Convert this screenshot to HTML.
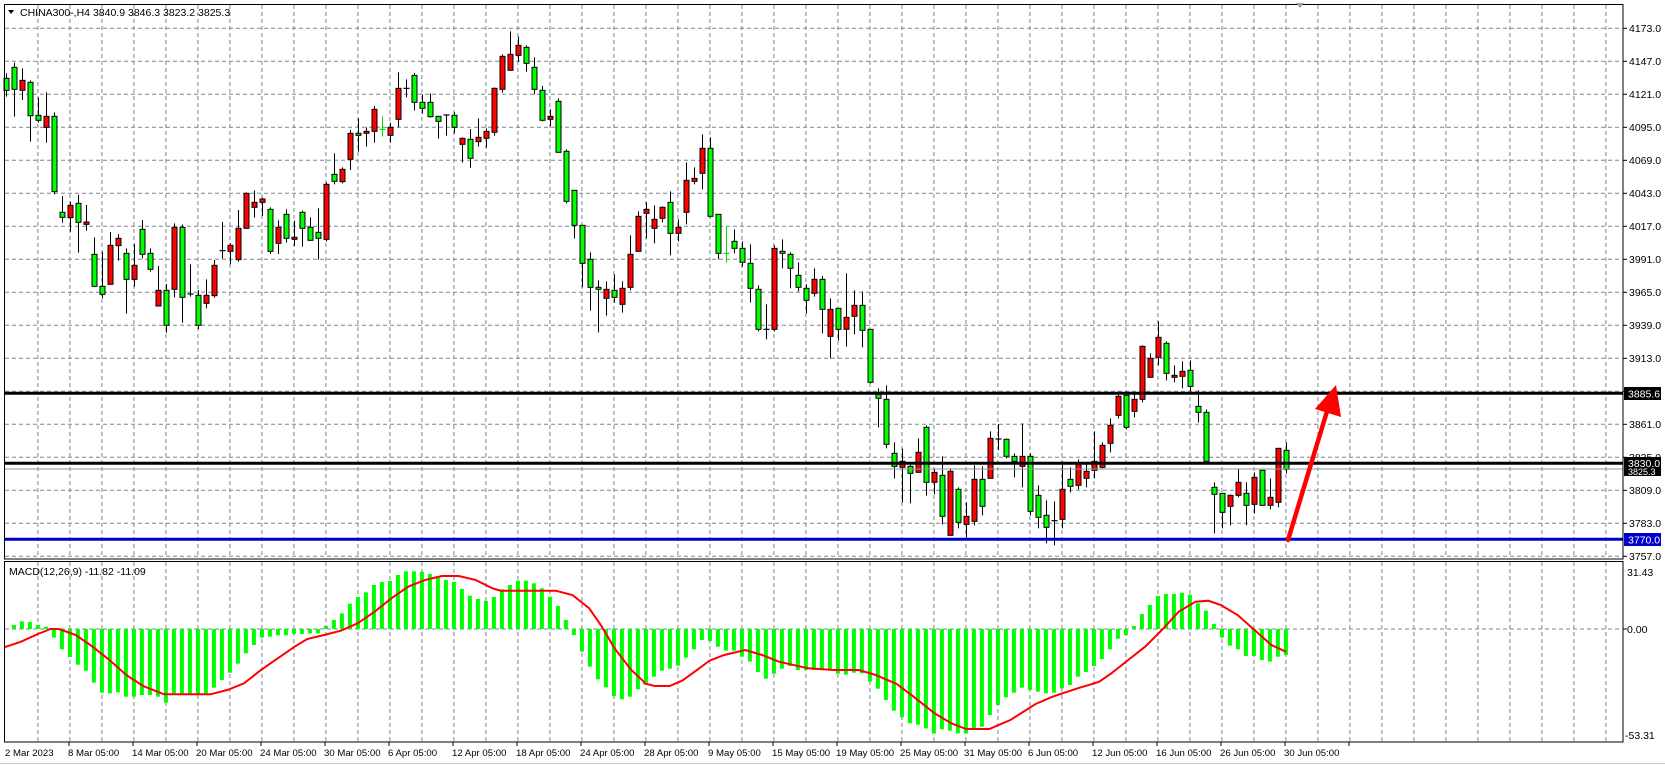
<!DOCTYPE html>
<html><head><meta charset="utf-8">
<style>
html,body{margin:0;padding:0;background:#fff;}
body{width:1665px;height:765px;overflow:hidden;position:relative;font-family:"Liberation Sans",sans-serif;}
svg{position:absolute;left:0;top:0;}
.t{font-family:"Liberation Sans",sans-serif;font-size:10.5px;fill:#000;}
.d{font-family:"Liberation Sans",sans-serif;font-size:9.6px;fill:#000;}
</style></head><body>
<svg id="c" width="1665" height="765" xmlns="http://www.w3.org/2000/svg">
<rect x="0" y="0" width="1665" height="765" fill="#fff"/>
<g id="grid"></g>
<g id="hist"></g>
<polyline id="sig" fill="none" stroke="#ff0000" stroke-width="2" points=""/>
<g id="cand"></g>
<line x1="4" y1="393.3" x2="1623" y2="393.3" stroke="#000" stroke-width="3"/>
<line x1="4" y1="463.3" x2="1623" y2="463.3" stroke="#000" stroke-width="3"/>
<line x1="4" y1="469" x2="1623" y2="469" stroke="#8c96a0" stroke-width="1"/>
<line x1="4" y1="539.3" x2="1623" y2="539.3" stroke="#0000cd" stroke-width="3"/>
<line x1="1288" y1="540" x2="1328" y2="408" stroke="#ff0000" stroke-width="4.5" stroke-linecap="round"/>
<polygon points="1336,385 1341,417 1315,409" fill="#ff0000"/>
<rect x="4.5" y="4.5" width="1618.5" height="554.5" fill="none" stroke="#000" stroke-width="1"/>
<rect x="4.5" y="561.5" width="1618.5" height="180.5" fill="none" stroke="#000" stroke-width="1"/>
<line x1="0" y1="763.5" x2="1665" y2="763.5" stroke="#c8c8c8"/>
<polygon points="1296,3 1304,3 1300,8" fill="#9aa0a8"/>
<polygon points="8,10 14,10 11,14" fill="#000"/>
<text class="t" x="20" y="16">CHINA300-,H4  3840.9 3846.3 3823.2 3825.3</text>
<text class="t" x="9" y="575">MACD(12,26,9) -11.82 -11.09</text>
<g id="ticks"></g>
<g>
<text class="t" x="1629" y="32">4173.0</text>
<text class="t" x="1629" y="65">4147.0</text>
<text class="t" x="1629" y="98">4121.0</text>
<text class="t" x="1629" y="131">4095.0</text>
<text class="t" x="1629" y="164">4069.0</text>
<text class="t" x="1629" y="197">4043.0</text>
<text class="t" x="1629" y="230">4017.0</text>
<text class="t" x="1629" y="263">3991.0</text>
<text class="t" x="1629" y="296">3965.0</text>
<text class="t" x="1629" y="329">3939.0</text>
<text class="t" x="1629" y="362">3913.0</text>
<text class="t" x="1629" y="428">3861.0</text>
<text class="t" x="1629" y="461">3835.0</text>
<text class="t" x="1629" y="494">3809.0</text>
<text class="t" x="1629" y="527">3783.0</text>
<text class="t" x="1629" y="560">3757.0</text>
</g>
<rect x="1624" y="387" width="37" height="13" fill="#000"/>
<text class="t" x="1628" y="397.5" style="fill:#fff">3885.6</text>
<rect x="1624" y="457" width="37" height="19" fill="#000"/>
<text class="t" x="1628" y="467" style="fill:#fff">3830.0</text>
<text class="t" x="1628" y="475" style="fill:#fff;font-size:9px">3825.3</text>
<rect x="1624" y="533" width="37" height="13" fill="#0000cd"/>
<text class="t" x="1628" y="543.5" style="fill:#fff">3770.0</text>
<text class="t" x="1627" y="576">31.43</text>
<text class="t" x="1627" y="633">0.00</text>
<text class="t" x="1625" y="739">-53.31</text>
<g>
<text class="d" x="5" y="756">2 Mar 2023</text>
<text class="d" x="68" y="756">8 Mar 05:00</text>
<text class="d" x="132" y="756">14 Mar 05:00</text>
<text class="d" x="196" y="756">20 Mar 05:00</text>
<text class="d" x="260" y="756">24 Mar 05:00</text>
<text class="d" x="324" y="756">30 Mar 05:00</text>
<text class="d" x="388" y="756">6 Apr 05:00</text>
<text class="d" x="452" y="756">12 Apr 05:00</text>
<text class="d" x="516" y="756">18 Apr 05:00</text>
<text class="d" x="580" y="756">24 Apr 05:00</text>
<text class="d" x="644" y="756">28 Apr 05:00</text>
<text class="d" x="708" y="756">9 May 05:00</text>
<text class="d" x="772" y="756">15 May 05:00</text>
<text class="d" x="836" y="756">19 May 05:00</text>
<text class="d" x="900" y="756">25 May 05:00</text>
<text class="d" x="964" y="756">31 May 05:00</text>
<text class="d" x="1028" y="756">6 Jun 05:00</text>
<text class="d" x="1092" y="756">12 Jun 05:00</text>
<text class="d" x="1156" y="756">16 Jun 05:00</text>
<text class="d" x="1220" y="756">26 Jun 05:00</text>
<text class="d" x="1284" y="756">30 Jun 05:00</text>
</g>
</svg>
<script>
(function(){
var NS="http://www.w3.org/2000/svg";
function el(p,n,a){var e=document.createElementNS(NS,n);for(var k in a)e.setAttribute(k,a[k]);p.appendChild(e);return e;}
var g=document.getElementById("grid");
var gc="#7a8694",da="4,3";
for(var k=0;k<50;k++){var x=37.9+32*k;
 el(g,"line",{x1:x,y1:5,x2:x,y2:558,stroke:gc,"stroke-dasharray":da,"stroke-width":1});
 el(g,"line",{x1:x,y1:562,x2:x,y2:741,stroke:gc,"stroke-dasharray":da,"stroke-width":1});}
for(var k=0;k<17;k++){var y=28.3+33*k;
 el(g,"line",{x1:5,y1:y,x2:1622,y2:y,stroke:gc,"stroke-dasharray":da,"stroke-width":1});}
el(g,"line",{x1:5,y1:629,x2:1622,y2:629,stroke:gc,"stroke-dasharray":da,"stroke-width":1});
var tk=document.getElementById("ticks");
for(var k=0;k<17;k++){var y=28.3+33*k;el(tk,"line",{x1:1623,y1:y,x2:1627,y2:y,stroke:"#000"});}
el(tk,"line",{x1:1623,y1:629,x2:1627,y2:629,stroke:"#000"});
for(var k=0;k<21;k++){var x=69+64*k;el(tk,"line",{x1:x,y1:742,x2:x,y2:746,stroke:"#000"});}
var A=[[175,211,160,230,'G'],[142,208,128,290,'G'],[181,211,145,240,'R'],[187,287,181,365,'G'],[286,301,233,308,'G'],[289,322,217,368,'R'],[289,515,277,523,'G'],[577,592,528,608,'G'],[556,593,545,635,'R'],[550,607,525,698,'G'],[606,613,555,632,'R'],[703,799,652,799,'G'],[799,823,695,835,'G'],[676,793,636,793,'R'],[655,677,642,722,'R'],[700,778,685,881,'G'],[736,778,672,800,'R'],[628,703,600,715,'G'],[700,748,685,755,'G'],[811,858,738,858,'R'],[811,916,792,938,'G'],[622,808,610,832,'R'],[622,832,614,908,'G'],[820,824,733,830,'K'],[826,916,810,927,'G'],[826,850,778,865,'R'],[736,827,720,833,'R'],[690,694,606,716,'K'],[676,694,670,733,'R'],[625,719,570,725,'R'],[520,625,517,625,'R'],[547,562,511,593,'R'],[537,547,533,588,'R'],[568,694,562,702,'G'],[622,670,601,702,'R'],[583,655,568,668,'G'],[652,658,602,678,'R'],[577,625,572,680,'G'],[622,661,592,661,'G'],[637,655,565,719,'G'],[493,658,487,665,'R'],[463,484,400,493,'G'],[448,485,442,490,'R'],[340,418,330,450,'R'],[340,346,295,395,'G'],[334,340,322,380,'R'],[268,334,258,368,'R'],[327,329,289,350,'L'],[322,346,308,368,'R'],[205,298,157,322,'R'],[204,206,178,232,'K'],[166,247,159,271,'G'],[247,265,223,280,'G'],[247,290,220,293,'G'],[289,304,289,356,'G'],[284,286,283,347,'K'],[286,322,277,340,'G'],[355,373,352,428,'R'],[358,415,327,443,'G'],[352,365,295,380,'R'],[334,355,325,383,'R'],[205,337,202,347,'R'],[109,208,103,218,'R'],[103,151,34,151,'R'],[76,106,50,125,'R'],[82,130,76,155,'G'],[142,208,112,223,'G'],[211,301,198,304,'G'],[289,298,268,319,'R'],[244,397,235,397,'G'],[394,544,388,550,'G'],[511,616,511,655,'G'],[616,730,616,802,'G'],[718,802,697,872,'G'],[802,808,781,937,'G'],[808,835,784,887,'R'],[811,832,763,848,'G'],[805,853,784,878,'R'],[703,802,646,811,'R'],[589,694,574,694,'R'],[568,580,547,655,'R'],[598,625,556,670,'R'],[562,595,559,607,'R'],[547,640,514,706,'G'],[622,640,598,664,'R'],[481,577,427,613,'R'],[475,484,442,493,'R'],[385,460,343,508,'R'],[385,589,352,592,'G'],[583,700,583,718,'G'],[699,701,619,728,'L'],[664,685,628,700,'G'],[685,727,664,740,'G'],[730,805,673,847,'G'],[808,928,796,934,'G'],[927,929,853,958,'K'],[685,928,676,934,'R'],[694,700,658,745,'G'],[703,745,697,805,'G'],[766,802,727,814,'G'],[805,841,793,880,'G']];
var B=[[88,130,55,140,'R'],[88,178,78,250,'G'],[178,259,145,325,'R'],[175,238,175,272,'G'],[202,238,70,290,'R'],[166,199,121,253,'R'],[166,241,124,292,'G'],[238,397,238,400,'G'],[433,445,415,532,'G'],[448,583,406,595,'G'],[610,649,577,685,'G'],[634,652,596,757,'R'],[649,670,637,760,'G'],[607,667,565,667,'R'],[532,697,526,737,'G'],[667,697,655,733,'R'],[676,799,619,823,'G'],[664,856,655,856,'R'],[718,817,712,835,'G'],[799,823,757,862,'R'],[688,814,646,826,'R'],[688,769,649,796,'G'],[565,685,544,685,'R'],[566,568,522,600,'K'],[568,619,565,625,'G'],[619,634,610,682,'G'],[619,649,520,712,'R'],[619,784,610,796,'G'],[736,802,706,835,'G'],[796,832,751,880,'G'],[811,813,754,886,'K'],[718,808,634,835,'R'],[688,709,652,727,'G'],[640,706,628,718,'R'],[664,685,640,712,'R'],[634,661,544,685,'R'],[586,652,577,655,'R'],[526,580,505,607,'R'],[439,496,424,505,'R'],[436,532,424,538,'G'],[448,484,433,502,'R'],[289,448,286,457,'R'],[325,382,310,382,'R'],[262,322,214,346,'R'],[280,370,274,391,'G'],[376,382,346,397,'R'],[364,379,334,415,'R'],[361,409,331,424,'G'],[469,487,421,517,'G'],[487,634,478,640,'G'],[712,733,697,850,'G'],[730,787,730,835,'G'],[736,769,733,826,'R'],[697,736,658,742,'R'],[730,766,697,826,'G'],[682,763,667,790,'R'],[661,766,661,766,'G'],[742,766,685,778,'R'],[595,757,595,772,'R'],[601,658,577,670,'G']];
var cg=document.getElementById("cand");
function draw(arr,start,off){
 for(var j=0;j<arr.length;j++){var d=arr[j],i=start+j,cx=Math.round(5.9+8*i)+0.5;
  var t=off+d[0]/3,b=off+d[1]/3,h=off+d[2]/3,l=off+d[3]/3,c=d[4];
  var wc=(c=='L')?'#00e000':'#000';
  el(cg,"line",{x1:cx,y1:h,x2:cx,y2:l,stroke:wc,"stroke-width":1});
  if(c=='K'||c=='L'){el(cg,"line",{x1:cx-3,y1:(t+b)/2,x2:cx+3,y2:(t+b)/2,stroke:wc,"stroke-width":1.2});}
  else{var hh=Math.max(b-t,2);el(cg,"rect",{x:cx-2.5,y:t,width:5,height:hh,fill:(c=='G'?'#00ff00':'#ff0000'),stroke:'#000','stroke-width':1});}
 }}
draw(A,0,20);draw(B,101,250);
var H=[207,195,184,186,195,200,233,268,291,314,332,368,398,400,397,410,410,405,405,410,428,400,400,400,400,400,383,360,338,311,280,255,233,230,226,226,222,222,220,220,198,180,160,131,111,97,75,66,63,45,34,34,35,42,52,60,66,87,107,117,123,111,88,75,62,62,70,85,110,138,180,225,275,320,358,382,408,418,410,388,370,350,
332,326,317,293,268,240,243,260,272,272,290,305,336,356,341,326,318,330,330,330,330,330,341,344,338,340,365,386,420,452,472,490,494,505,520,508,512,520,520,508,500,465,435,412,398,383,390,395,400,398,385,375,350,336,318,297,268,236,225,198,162,135,108,102,102,98,104,130,152,192,233,257,268,288,288,300,305,290,285];
var hg=document.getElementById("hist");
for(var i=0;i<H.length;i++){var x=5.9+8*i,y=560+H[i]/3,z=629;
 var y0=Math.min(y,z),y1=Math.max(y,z);if(y1-y0<0.5)continue;
 el(hg,"rect",{x:x-2,y:y0,width:4,height:y1-y0,fill:"#00ff00"});}
var S1=[[10,262],[50,245],[90,222],[120,207],[140,207],[180,225],[220,260],[260,300],[300,345],[340,378],[390,403],[500,403],[540,390],[580,370],[620,330],[660,295],[700,260],[730,237],[770,225],[810,212],[850,190],[890,155],[930,115],[970,80],[1010,60],[1050,48],[1090,48],[1130,60],[1170,85],[1190,92],[1320,92],[1360,105],[1400,145],[1430,200],[1460,265],[1500,330],[1530,365]];
var S2=[[10,370],[35,378],[70,378],[100,362],[130,335],[165,302],[200,285],[250,270],[290,285],[330,305],[400,325],[460,330],[520,330],[560,345],[610,372],[650,410],[700,460],[740,490],[775,507],[830,507],[880,480],[940,432],[980,410],[1040,385],[1090,366],[1120,340],[1160,300],[1200,260],[1240,210],[1280,155],[1320,125],[1350,122],[1380,135],[1420,165],[1460,210],[1500,255],[1535,275]];
var pts=[];
S1.forEach(function(p){pts.push((p[0]/2.376).toFixed(1)+","+(560+p[1]/3).toFixed(1));});
S2.forEach(function(p){pts.push((640+p[0]/2.376).toFixed(1)+","+(560+p[1]/3).toFixed(1));});
document.getElementById("sig").setAttribute("points",pts.join(" "));
})();
</script>
</body></html>
